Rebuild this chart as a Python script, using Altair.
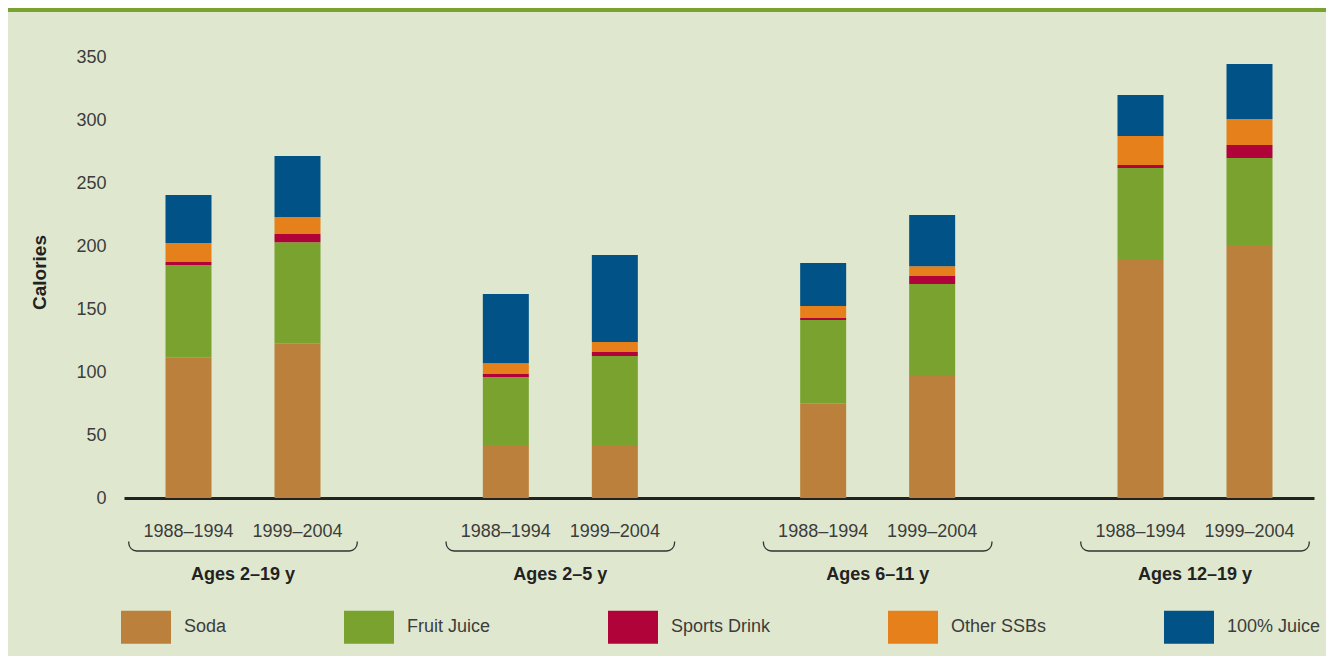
import altair as alt
import pandas as pd

# ---- data ----
groups = ["Ages 2–19 y", "Ages 2–5 y", "Ages 6–11 y", "Ages 12–19 y"]
periods = ["1988–1994", "1999–2004"]
drinks = ["Soda", "Fruit Juice", "Sports Drink", "Other SSBs", "100% Juice"]
colors = ["#BB803B", "#7AA22F", "#B0033A", "#E5801A", "#005287"]

# order of bars: (group, period) pairs
bar_group = [g for g in groups for _ in periods]
bar_period = [p for _ in groups for p in periods]

soda = [111.3, 122.5, 42.0, 41.3, 74.9, 97.6, 189.7, 200.8]
fruit_juice = [73.7, 80.5, 54.0, 71.4, 66.4, 72.2, 72.2, 69.0]
sports_drink = [2.3, 6.5, 2.4, 3.2, 1.6, 6.4, 2.4, 10.4]
other_ssbs = [15.1, 13.5, 8.6, 7.9, 9.5, 7.8, 23.0, 20.6]
juice_100 = [38.1, 48.4, 54.9, 69.1, 34.1, 40.6, 32.5, 43.6]

y_ticks = [0, 50, 100, 150, 200, 250, 300, 350]

BG = "#DFE8CE"
BAND = "#7AA22F"
FONT = "Liberation Sans"
TXT = "#3c3c3c"

series = [soda, fruit_juice, sports_drink, other_ssbs, juice_100]
rows = []
for k, (name, vals) in enumerate(zip(drinks, series)):
    for g, p, v in zip(bar_group, bar_period, vals):
        rows.append({"group": g, "period": p, "drink": name, "idx": k, "value": v})
df = pd.DataFrame(rows)

labels_df = pd.DataFrame({"group": bar_group, "period": bar_period})
groups_df = pd.DataFrame({"group": groups})
one_df = pd.DataFrame({"a": [0]})

x_scale = alt.Scale(domain=groups, paddingInner=0.28, paddingOuter=0.015)
xo_scale = alt.Scale(domain=periods, paddingInner=0.578, paddingOuter=0.337)

x_enc = alt.X(
    "group:N",
    scale=x_scale,
    sort=groups,
    title=None,
    axis=alt.Axis(
        labelAngle=0,
        labelAlign="center",
        bandPosition=0.5,
        labelFont=FONT,
        labelFontSize=18,
        labelFontWeight="bold",
        labelColor="#222222",
        labelBaseline="alphabetic",
        labelPadding=81,
        ticks=False,
        tickSize=0,
        grid=False,
        domainColor="#222222",
        domainWidth=3,
    ),
)

bars = (
    alt.Chart(df)
    .mark_bar()
    .encode(
        x=x_enc,
        xOffset=alt.XOffset("period:N", scale=xo_scale, sort=periods),
        y=alt.Y(
            "value:Q",
            stack="zero",
            scale=alt.Scale(domain=[0, 350], nice=False),
            title="Calories",
            axis=alt.Axis(
                values=y_ticks,
                grid=False,
                domain=False,
                ticks=False,
                tickSize=0,
                labelPadding=18,
                labelFont=FONT,
                labelFontSize=18,
                labelColor=TXT,
                titleFont=FONT,
                titleFontSize=19,
                titleFontWeight="bold",
                titleColor="#222222",
                titleX=-85,
                titleY=215,
                titleBaseline="middle",
            ),
        ),
        color=alt.Color(
            "drink:N",
            scale=alt.Scale(domain=drinks, range=colors),
            legend=alt.Legend(
                title=None,
                orient="none",
                legendX=-3,
                legendY=545,
                direction="horizontal",
                columns=5,
                columnPadding=117,
                symbolType="M-1,-0.66H1V0.66H-1Z",
                symbolSize=2500,
                symbolStrokeWidth=0,
                symbolOpacity=1,
                labelFont=FONT,
                labelFontSize=18,
                labelColor=TXT,
                labelOffset=13,
                labelBaseline="middle",
                labelLimit=200,
                padding=0,
            ),
        ),
        order=alt.Order("idx:Q"),
    )
)

period_text = (
    alt.Chart(labels_df)
    .mark_text(font=FONT, fontSize=18, color=TXT, baseline="middle", align="center")
    .encode(
        x=alt.X("group:N", scale=x_scale, sort=groups),
        xOffset=alt.XOffset("period:N", scale=xo_scale, sort=periods),
        y=alt.value(475),
        text="period:N",
    )
)

bracket = (
    alt.Chart(groups_df)
    .mark_bar(
        fillOpacity=0,
        stroke="#333333",
        strokeWidth=1.3,
        cornerRadiusBottomLeft=8,
        cornerRadiusBottomRight=8,
    )
    .encode(
        x=alt.X("group:N", scale=x_scale, sort=groups),
        y=alt.value(476),
        y2=alt.value(494),
    )
)

bracket_cover = (
    alt.Chart(groups_df)
    .mark_bar(color=BG, width=alt.RelativeBandSize(1.04))
    .encode(
        x=alt.X("group:N", scale=x_scale, sort=groups),
        y=alt.value(470),
        y2=alt.value(484.5),
    )
)

top_band = (
    alt.Chart(one_df)
    .mark_rect(color=BAND)
    .encode(
        x=alt.value(-116),
        x2=alt.value(1202),
        y=alt.value(-49),
        y2=alt.value(-45),
    )
)

chart = (
    alt.layer(top_band, bracket, bracket_cover, period_text, bars)
    .properties(
        width=1190,
        height=441,
        autosize=alt.AutoSizeParams(type="none"),
        padding={"left": 116, "top": 49, "right": 12, "bottom": 158},
        background=BG,
    )
    .configure_view(strokeWidth=0)
)

chart.save("out.html", embed_options={"renderer": "svg", "actions": False})
